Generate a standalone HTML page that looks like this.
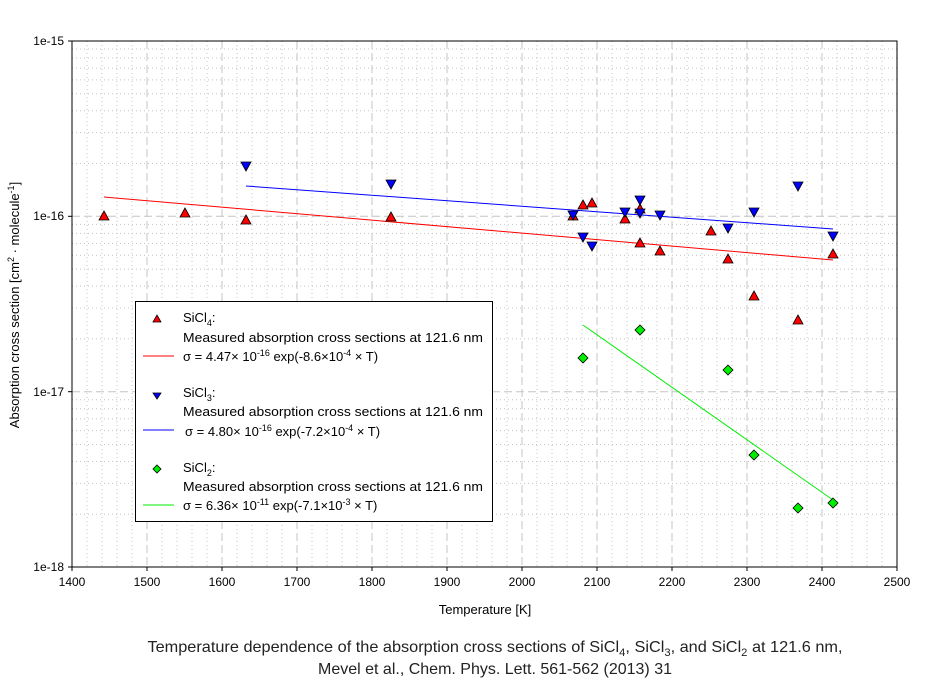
<!DOCTYPE html>
<html><head><meta charset="utf-8"><style>
html,body{margin:0;padding:0;background:#fff;width:937px;height:683px;overflow:hidden}
svg{display:block;font-family:"Liberation Sans",Arial,sans-serif}
</style></head><body>
<svg id="s" width="937" height="683" xmlns="http://www.w3.org/2000/svg">
<g id="grid"></g>
<rect x="72" y="41" width="825" height="526" fill="none" stroke="#000" stroke-width="1"/>
<g font-size="12" text-anchor="end" fill="#000">
<text x="64" y="45">1e-15</text><text x="64" y="220">1e-16</text><text x="64" y="396">1e-17</text><text x="64" y="571">1e-18</text>
</g>
<g id="xt" font-size="12" text-anchor="middle"></g>
<text x="485" y="614" font-size="13" text-anchor="middle">Temperature [K]</text>
<text transform="translate(19,305) rotate(-90)" font-size="13" text-anchor="middle">Absorption cross section [cm<tspan dy="-5" font-size="9">2</tspan><tspan dy="5"> · molecule</tspan><tspan dy="-5" font-size="9">-1</tspan><tspan dy="5">]</tspan></text>
<line x1="104" y1="197" x2="833" y2="260" stroke="#f00"/>
<line x1="246" y1="186" x2="833" y2="229" stroke="#00f"/>
<line x1="583" y1="325" x2="833" y2="500" stroke="#0e0"/>
<g id="pts"></g>
<rect x="135.5" y="301.5" width="357" height="220" fill="#fff" stroke="#000"/>
<g font-size="13">
<path d="M153,322 l4,-7 l4,7z" fill="#f00" stroke="#000" stroke-width="0.8"/>
<text x="183" y="322">SiCl<tspan dy="4" font-size="9">4</tspan><tspan dy="-4">:</tspan></text>
<text x="183" y="342" textLength="300" lengthAdjust="spacingAndGlyphs">Measured absorption cross sections at 121.6 nm</text>
<line x1="143" y1="356" x2="174" y2="356" stroke="#f00"/>
<text x="183" y="361">σ = 4.47× 10<tspan dy="-5" font-size="9">-16</tspan><tspan dy="5"> exp(-8.6×10</tspan><tspan dy="-5" font-size="9">-4</tspan><tspan dy="5"> × T)</tspan></text>
<path d="M153,393 l4,6 l4,-6z" fill="#00f" stroke="#000" stroke-width="0.8"/>
<text x="183" y="397">SiCl<tspan dy="4" font-size="9">3</tspan><tspan dy="-4">:</tspan></text>
<text x="183" y="416" textLength="300" lengthAdjust="spacingAndGlyphs">Measured absorption cross sections at 121.6 nm</text>
<line x1="143" y1="430" x2="174" y2="430" stroke="#00f"/>
<text x="185" y="436">σ = 4.80× 10<tspan dy="-5" font-size="9">-16</tspan><tspan dy="5"> exp(-7.2×10</tspan><tspan dy="-5" font-size="9">-4</tspan><tspan dy="5"> × T)</tspan></text>
<path d="M157,465 l4,4 l-4,4 l-4,-4z" fill="#0e0" stroke="#000" stroke-width="0.8"/>
<text x="183" y="472">SiCl<tspan dy="4" font-size="9">2</tspan><tspan dy="-4">:</tspan></text>
<text x="183" y="491" textLength="300" lengthAdjust="spacingAndGlyphs">Measured absorption cross sections at 121.6 nm</text>
<line x1="143" y1="505" x2="174" y2="505" stroke="#0e0"/>
<text x="183" y="510">σ = 6.36× 10<tspan dy="-5" font-size="9">-11</tspan><tspan dy="5"> exp(-7.1×10</tspan><tspan dy="-5" font-size="9">-3</tspan><tspan dy="5"> × T)</tspan></text>
</g>
<g font-size="16" text-anchor="middle" fill="#222">
<text x="495" y="652" textLength="695" lengthAdjust="spacingAndGlyphs">Temperature dependence of the absorption cross sections of SiCl<tspan dy="4" font-size="11">4</tspan><tspan dy="-4">, SiCl</tspan><tspan dy="4" font-size="11">3</tspan><tspan dy="-4">, and SiCl</tspan><tspan dy="4" font-size="11">2</tspan><tspan dy="-4"> at 121.6 nm,</tspan></text>
<text x="495" y="674">Mevel et al., Chem. Phys. Lett. 561-562 (2013) 31</text>
</g>
</svg>
<script>
var NS="http://www.w3.org/2000/svg";
function el(p,n,a){var e=document.createElementNS(NS,n);for(var k in a)e.setAttribute(k,a[k]);p.appendChild(e);return e;}
var g=document.getElementById("grid"),xt=document.getElementById("xt"),pts=document.getElementById("pts");
for(var i=0;i<=55;i++){var x=72+i*15;if(i%5==0)continue;el(g,"line",{x1:x,x2:x,y1:41,y2:567,stroke:"#c4c4c4","stroke-dasharray":"1,3"});}
for(var i=1;i<11;i++){var x=72+i*75;el(g,"line",{x1:x,x2:x,y1:41,y2:567,stroke:"#c4c4c4","stroke-dasharray":"8,4"});}
var bases=[567,391.7,216.3];
bases.forEach(function(b,j){for(var k=2;k<10;k++){var y=b-175.3*Math.log10(k);el(g,"line",{x1:72,x2:897,y1:y,y2:y,stroke:"#c4c4c4","stroke-dasharray":"1,3"});}
 if(j>0)el(g,"line",{x1:72,x2:897,y1:b,y2:b,stroke:"#c4c4c4","stroke-dasharray":"8,4"});});
for(var i=0;i<=11;i++){var x=72+i*75;el(g,"line",{x1:x,x2:x,y1:567,y2:571,stroke:"#000"});var t=el(xt,"text",{x:x,y:586});t.textContent=1400+i*100;}
[41,216.3,391.7,567].forEach(function(y){el(g,"line",{x1:68,x2:72,y1:y,y2:y,stroke:"#000"});});
var R=[[104,216],[185,213],[246,220],[391,217],[573,216],[583,205],[592,203],[625,219],[640,209],[640,243],[660,251],[711,231],[728,259],[754,296],[798,320],[833,254]];
var B=[[246,166],[391,184],[573,215],[583,237],[592,246],[625,212],[640,200],[640,213],[660,215],[728,228],[754,212],[798,186],[833,236]];
var G=[[583,358],[640,330],[728,370],[754,455],[798,508],[833,503]];
R.forEach(function(p){el(pts,"path",{d:"M"+(p[0]-5)+","+(p[1]+4)+" l5,-9 l5,9z",fill:"#f00",stroke:"#000","stroke-width":0.8});});
B.forEach(function(p){el(pts,"path",{d:"M"+(p[0]-5)+","+(p[1]-4)+" l5,9 l5,-9z",fill:"#00f",stroke:"#000","stroke-width":0.8});});
G.forEach(function(p){el(pts,"path",{d:"M"+p[0]+","+(p[1]-5)+" l5,5 l-5,5 l-5,-5z",fill:"#0e0",stroke:"#000","stroke-width":0.8});});
</script>
</body></html>
